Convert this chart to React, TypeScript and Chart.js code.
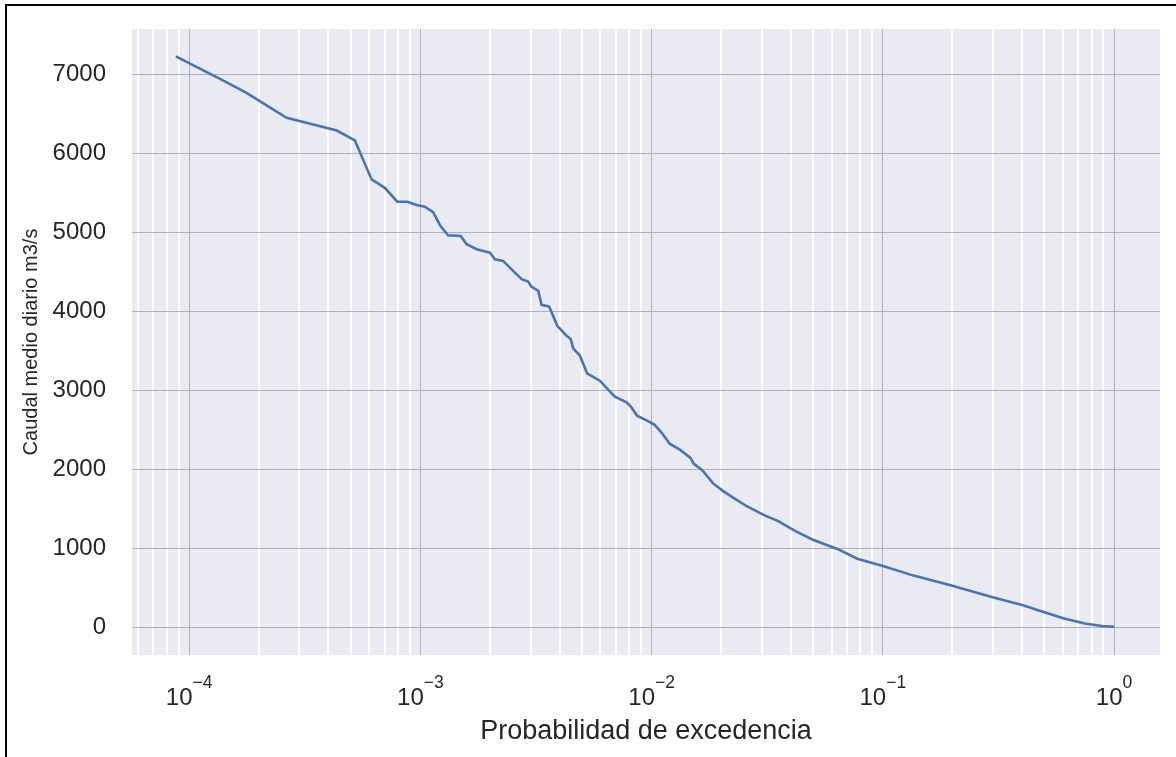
import React, { useEffect, useRef } from "react";
import { Chart, registerables } from "chart.js";

Chart.register(...registerables);

// Exceedance probability (x) and mean daily flow in m3/s (y)
const PROB = [
  8.76e-5, 1.36e-4, 1.77e-4, 2.64e-4, 4.35e-4, 5.21e-4, 6.15e-4, 7.02e-4, 7.94e-4, 8.77e-4,
  9.64e-4, 1.045e-3, 1.135e-3, 1.222e-3, 1.318e-3, 1.493e-3, 1.585e-3, 1.75e-3, 2.0e-3, 2.099e-3,
  2.28e-3, 2.518e-3, 2.742e-3, 2.924e-3, 3.027e-3, 3.236e-3, 3.342e-3, 3.606e-3, 3.908e-3, 4.285e-3,
  4.467e-3, 4.581e-3, 4.898e-3, 5.26e-3, 5.97e-3, 6.93e-3, 7.8e-3, 8.18e-3, 8.65e-3, 9.6e-3,
  1.028e-2, 1.102e-2, 1.2e-2, 1.33e-2, 1.472e-2, 1.524e-2, 1.66e-2, 1.84e-2, 2.04e-2, 2.26e-2,
  2.59e-2, 3.08e-2, 3.53e-2, 4.19e-2, 4.98e-2, 6.32e-2, 7.76e-2, 0.1009, 0.1346, 0.1963,
  0.2958, 0.4036, 0.4955, 0.6081, 0.748, 0.887, 1.0,
];
const CAUDAL = [
  7224, 6938, 6761, 6445, 6285, 6159, 5666, 5560, 5384, 5384,
  5342, 5320, 5253, 5076, 4959, 4950, 4845, 4782, 4739, 4656,
  4634, 4508, 4403, 4373, 4306, 4255, 4078, 4057, 3813, 3687,
  3645, 3527, 3434, 3210, 3118, 2916, 2844, 2781, 2676, 2610,
  2562, 2465, 2318, 2242, 2141, 2066, 1981, 1821, 1720, 1636,
  1526, 1413, 1341, 1214, 1105, 992, 865, 768, 654, 528,
  380, 275, 191, 107, 44, 14, 3,
];

const Y_TICKS = [0, 1000, 2000, 3000, 4000, 5000, 6000, 7000];
const X_MAJOR = [1e-4, 1e-3, 1e-2, 1e-1, 1];
const X_TICK_BASE = "10";
const X_TICK_EXPONENTS = ["\u22124", "\u22123", "\u22122", "\u22121", "0"];
const X_MINOR_MULTIPLIERS = [2, 3, 4, 5, 6, 7, 8, 9];
const X_MINOR_DECADES = [1e-5, 1e-4, 1e-3, 1e-2, 1e-1];

const X_MIN = 5.66e-5;
const X_MAX = 1.58;
const Y_MIN = -354;
const Y_MAX = 7570;

const X_TITLE = "Probabilidad de excedencia";
const Y_TITLE = "Caudal medio diario m3/s";

const FONT = '"Liberation Sans", Arial, Helvetica, sans-serif';
const TEXT = "#262626";
const BG = "#EAEAF2";
const GRID_MAJOR = "#b0b0b8";
const LINE = "#4C72B0";

const W = 1176;
const H = 757;

function buildXTicks() {
  const ticks: { value: number; major: boolean }[] = [];
  X_MINOR_DECADES.forEach((d) => {
    X_MINOR_MULTIPLIERS.forEach((m) => {
      const v = m * d;
      if (v >= X_MIN && v <= X_MAX) ticks.push({ value: v, major: false });
    });
  });
  X_MAJOR.forEach((v) => ticks.push({ value: v, major: true }));
  ticks.sort((a, b) => a.value - b.value);
  return ticks;
}

const bgPlugin = {
  id: "plotBg",
  beforeDraw(chart: any) {
    const { ctx, chartArea } = chart;
    ctx.save();
    ctx.fillStyle = BG;
    ctx.fillRect(chartArea.left, chartArea.top, chartArea.right - chartArea.left, chartArea.bottom - chartArea.top);
    ctx.restore();
  },
};

const xLabelPlugin = {
  id: "xPowLabels",
  afterDraw(chart: any) {
    const { ctx } = chart;
    const xs = chart.scales.x;
    ctx.save();
    ctx.fillStyle = TEXT;
    ctx.textAlign = "left";
    ctx.textBaseline = "alphabetic";
    X_MAJOR.forEach((v, i) => {
      const x = xs.getPixelForValue(v);
      ctx.font = `24px ${FONT}`;
      const w1 = ctx.measureText(X_TICK_BASE).width;
      ctx.font = `17.5px ${FONT}`;
      const w2 = ctx.measureText(X_TICK_EXPONENTS[i]).width;
      const start = x - (w1 + w2) / 2;
      ctx.font = `24px ${FONT}`;
      ctx.fillText(X_TICK_BASE, start, 705);
      ctx.font = `17.5px ${FONT}`;
      ctx.fillText(X_TICK_EXPONENTS[i], start + w1, 687.5);
    });
    ctx.restore();
  },
};

export default function App() {
  const canvasRef = useRef<HTMLCanvasElement | null>(null);

  useEffect(() => {
    const canvas = canvasRef.current;
    if (!canvas) return;
    const points = PROB.map((p, i) => ({ x: p, y: CAUDAL[i] }));
    const chart = new Chart(canvas, {
      type: "line",
      data: {
        datasets: [
          {
            data: points,
            borderColor: LINE,
            borderWidth: 2.6,
            pointRadius: 0,
            fill: false,
            tension: 0,
          },
        ],
      },
      options: {
        animation: false,
        responsive: false,
        events: [],
        layout: { padding: { left: 0, top: 29, right: 16, bottom: 0 }, autoPadding: false },
        plugins: {
          legend: { display: false },
          tooltip: { enabled: false },
          title: { display: false },
        },
        scales: {
          x: {
            type: "logarithmic",
            min: X_MIN,
            max: X_MAX,
            afterBuildTicks: (scale: any) => {
              scale.ticks = buildXTicks();
            },
            afterFit: (scale: any) => {
              scale.height = H - 655;
              scale.paddingLeft = 0;
              scale.paddingRight = 0;
            },
            ticks: { display: false },
            border: { display: false },
            grid: {
              drawTicks: false,
              color: (c: any) => (c.tick && c.tick.major ? GRID_MAJOR : "#ffffff"),
              lineWidth: (c: any) => (c.tick && c.tick.major ? 1 : 2),
            },
            title: {
              display: true,
              text: X_TITLE,
              color: TEXT,
              font: { family: FONT, size: 27 },
              padding: { top: 0, bottom: 9 },
            },
          },
          y: {
            type: "linear",
            min: Y_MIN,
            max: Y_MAX,
            afterBuildTicks: (scale: any) => {
              scale.ticks = Y_TICKS.map((v) => ({ value: v }));
            },
            afterFit: (scale: any) => {
              scale.width = 132;
              scale.paddingTop = 0;
              scale.paddingBottom = 0;
            },
            ticks: {
              color: TEXT,
              font: { family: FONT, size: 24 },
              padding: 26,
              callback: (v: any) => String(v),
            },
            border: { display: false },
            grid: {
              drawTicks: false,
              color: GRID_MAJOR,
              lineWidth: 1,
            },
            title: {
              display: true,
              text: Y_TITLE,
              color: TEXT,
              font: { family: FONT, size: 20 },
              padding: { top: 19.5, bottom: 0 },
            },
          },
        },
      },
      plugins: [bgPlugin, xLabelPlugin],
    } as any);
    return () => chart.destroy();
  }, []);

  return (
    <div style={{ position: "fixed", left: 0, top: 0, width: W, height: H, background: "#fff" }}>
      <canvas ref={canvasRef} width={W} height={H} style={{ width: W, height: H, display: "block" }} />
      <div
        style={{
          position: "absolute",
          left: 5,
          top: 4,
          width: W,
          height: H,
          borderTop: "2px solid #000",
          borderLeft: "2px solid #000",
          pointerEvents: "none",
        }}
      />
    </div>
  );
}
